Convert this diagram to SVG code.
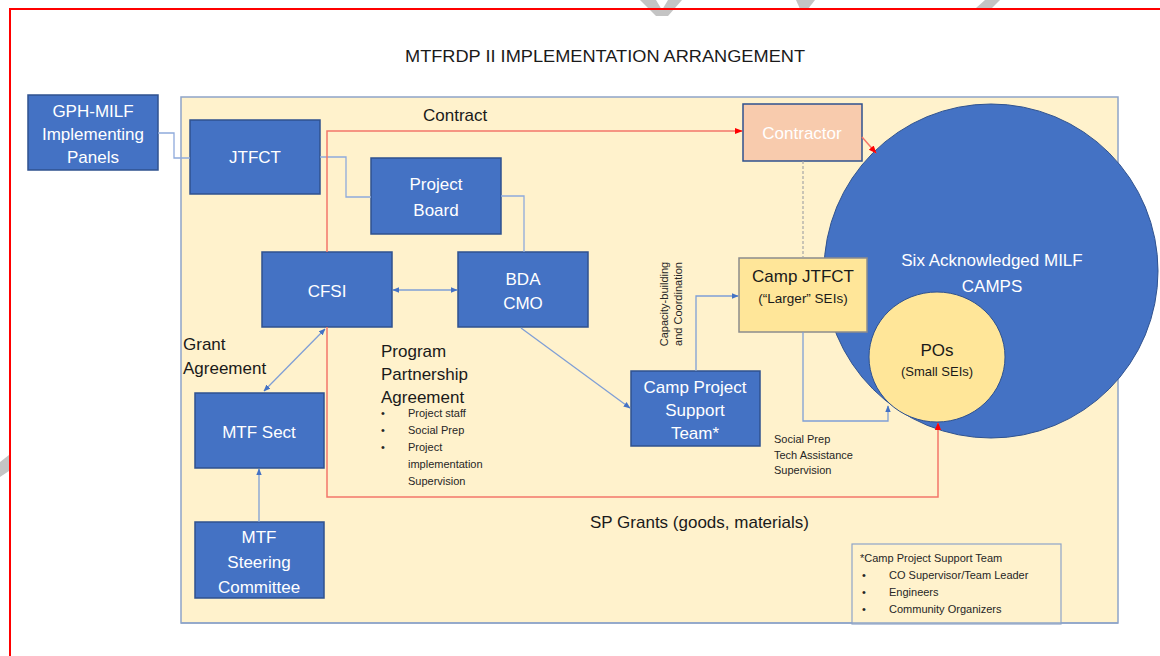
<svg xmlns="http://www.w3.org/2000/svg" width="1160" height="656" viewBox="0 0 1160 656">
<defs>
<style>
.bx{fill:#4472C4;stroke:#2F528F;stroke-width:1.5}
.wt{font-family:"Liberation Sans",Arial,sans-serif;font-size:17px;fill:#ffffff;text-anchor:middle}
.bt{font-family:"Liberation Sans",Arial,sans-serif;font-size:17px;fill:#1a1a1a}
.st{font-family:"Liberation Sans",Arial,sans-serif;font-size:11px;fill:#262626}
.ln{fill:none;stroke:#8FAADC;stroke-width:1.3}
.ar{fill:none;stroke:#7F9FD6;stroke-width:1.3}
.rd{fill:none;stroke:#F4776A;stroke-width:1.5}
.gm{fill:#c4c4c4}
</style>
<marker id="ab" viewBox="0 0 10 10" refX="9" refY="5" markerWidth="7" markerHeight="7" orient="auto-start-reverse" markerUnits="userSpaceOnUse"><path d="M0,1 L10,5 L0,9 z" fill="#4472C4"/></marker>
<marker id="ar" viewBox="0 0 10 10" refX="9" refY="5" markerWidth="8" markerHeight="8" orient="auto" markerUnits="userSpaceOnUse"><path d="M0,1 L10,5 L0,9 z" fill="#FF0000"/></marker>
</defs>
<rect x="0" y="0" width="1160" height="656" fill="#ffffff"/>
<g id="watermark">
<polygon class="gm" points="640,0 656,0 662,10 668,0 682,0 668,16 656,16"/>
<polygon class="gm" points="796,0 815,0 808,9 800,9"/>
<polygon class="gm" points="985,0 1000,0 992,8 976,8"/>
<polygon class="gm" points="0,462 9,455 9,471 0,477"/>
</g>
<rect x="10" y="9" width="1160" height="660" fill="none" stroke="#FF0000" stroke-width="2"/>
<text x="605" y="62" font-family="Liberation Sans,Arial,sans-serif" font-size="17" fill="#1a1a1a" text-anchor="middle" textLength="400" lengthAdjust="spacingAndGlyphs">MTFRDP II IMPLEMENTATION ARRANGEMENT</text>
<rect id="panel" x="181" y="97" width="937" height="526" fill="#FFF2CC" stroke="#8EA4C8" stroke-width="1.5"/>
<g id="gph-milf"><rect class="bx" x="28" y="95" width="130" height="75"/>
<text class="wt" x="93" y="117">GPH-MILF</text><text class="wt" x="93" y="140">Implementing</text><text class="wt" x="93" y="163">Panels</text></g>
<g id="jtfct"><rect class="bx" x="190" y="120" width="130" height="74"/><text class="wt" x="255" y="163">JTFCT</text></g>
<g id="project-board"><rect class="bx" x="371" y="158" width="130" height="76"/><text class="wt" x="436" y="190">Project</text><text class="wt" x="436" y="216">Board</text></g>
<g id="cfsi"><rect class="bx" x="262" y="252" width="130" height="75"/><text class="wt" x="327" y="297">CFSI</text></g>
<g id="bda-cmo"><rect class="bx" x="458" y="252" width="130" height="75"/><text class="wt" x="523" y="285">BDA</text><text class="wt" x="523" y="309">CMO</text></g>
<g id="mtf-sect"><rect class="bx" x="195" y="393" width="129" height="75"/><text class="wt" x="259" y="438">MTF Sect</text></g>
<g id="mtf-steering"><rect class="bx" x="195" y="522" width="129" height="76"/><text class="wt" x="259" y="543">MTF</text><text class="wt" x="259" y="568">Steering</text><text class="wt" x="259" y="593">Committee</text></g>
<g id="contractor"><rect x="743" y="104" width="119" height="57" fill="#F8CBAD" stroke="#2F528F" stroke-width="1.5"/><text class="wt" x="802" y="139">Contractor</text></g>
<g id="camps"><circle cx="991" cy="271" r="167" fill="#4472C4" stroke="#2F528F" stroke-width="1"/>
<text class="wt" x="992" y="266">Six Acknowledged MILF</text><text class="wt" x="992" y="292">CAMPS</text></g>
<g id="camp-jtfct"><rect x="739" y="258" width="128" height="74" fill="#FFE699" stroke="#8C8C8C" stroke-width="1.5"/>
<text class="bt" x="803" y="282" text-anchor="middle">Camp JTFCT</text><text x="803" y="303" font-family="Liberation Sans,Arial,sans-serif" font-size="13.5" fill="#1a1a1a" text-anchor="middle">(“Larger” SEIs)</text></g>
<g id="pos"><ellipse cx="937" cy="357" rx="68" ry="65" fill="#FFE699" stroke="#2F528F" stroke-width="1"/>
<text class="bt" x="937" y="356" text-anchor="middle">POs</text><text x="937" y="376" font-family="Liberation Sans,Arial,sans-serif" font-size="13" fill="#1a1a1a" text-anchor="middle">(Small SEIs)</text></g>
<g id="camp-pst"><rect class="bx" x="631" y="371" width="129" height="75"/><text class="wt" x="695" y="393">Camp Project</text><text class="wt" x="695" y="416">Support</text><text class="wt" x="695" y="439">Team*</text></g>
<g id="connectors">
<polyline class="ln" points="158,133 174,133 174,158 190,158"/>
<polyline class="ln" points="320,157 346,157 346,197 371,197"/>
<polyline class="ln" points="501,196 524,196 524,252"/>
<line class="ar" x1="393" y1="290" x2="457" y2="290" marker-start="url(#ab)" marker-end="url(#ab)"/>
<line class="ar" x1="325" y1="329" x2="264" y2="391" marker-start="url(#ab)" marker-end="url(#ab)"/>
<line class="ar" x1="259" y1="522" x2="259" y2="469" marker-end="url(#ab)"/>
<line class="ar" x1="521" y1="328" x2="630" y2="408" marker-end="url(#ab)"/>
<polyline class="ar" points="696,371 696,296 738,296" marker-end="url(#ab)"/>
<polyline class="ar" points="803,332 803,421 888,421 888,406" marker-end="url(#ab)"/>
<line x1="803" y1="161" x2="803" y2="258" stroke="#A6A6A6" stroke-width="1.2" stroke-dasharray="3,2"/>
<polyline class="rd" points="327,252 327,131 742,131" marker-end="url(#ar)"/>
<polyline class="rd" points="327,327 327,497 938,497 938,423" marker-end="url(#ar)"/>
<line class="rd" x1="862" y1="137" x2="876" y2="153" marker-end="url(#ar)"/>
</g>
<g id="labels">
<text class="bt" x="423" y="121">Contract</text>
<text class="bt" x="183" y="350">Grant</text><text class="bt" x="183" y="374">Agreement</text>
<text class="bt" x="381" y="357">Program</text><text class="bt" x="381" y="380">Partnership</text><text class="bt" x="381" y="403">Agreement</text>
<text class="st" x="381" y="417">•</text><text class="st" x="408" y="417">Project staff</text>
<text class="st" x="381" y="434">•</text><text class="st" x="408" y="434">Social Prep</text>
<text class="st" x="381" y="451">•</text><text class="st" x="408" y="451">Project</text>
<text class="st" x="408" y="468">implementation</text>
<text class="st" x="408" y="485">Supervision</text>
<text class="st" font-size="10" transform="translate(668,304) rotate(-90)" text-anchor="middle">Capacity-building</text>
<text class="st" font-size="10" transform="translate(682,304) rotate(-90)" text-anchor="middle">and Coordination</text>
<text class="st" font-size="10" x="774" y="443">Social Prep</text>
<text class="st" font-size="10" x="774" y="459">Tech Assistance</text>
<text class="st" font-size="10" x="774" y="474">Supervision</text>
<text class="bt" font-size="16" x="590" y="528">SP Grants (goods, materials)</text>
</g>
<g id="legend"><rect x="852" y="544" width="209" height="80" fill="#FFF2CC" stroke="#8EA4C8" stroke-width="1.2"/>
<text class="st" x="860" y="562">*Camp Project Support Team</text>
<text class="st" x="862" y="579">•</text><text class="st" x="889" y="579">CO Supervisor/Team Leader</text>
<text class="st" x="862" y="596">•</text><text class="st" x="889" y="596">Engineers</text>
<text class="st" x="862" y="613">•</text><text class="st" x="889" y="613">Community Organizers</text></g>
<line x1="181" y1="623" x2="1118" y2="623" stroke="#8EA4C8" stroke-width="1.5"/>
</svg>
